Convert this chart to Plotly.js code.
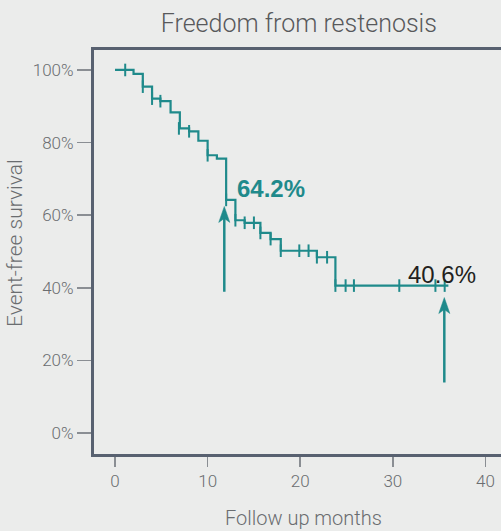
<!DOCTYPE html>
<html>
<head>
<meta charset="utf-8">
<script src="https://cdn.plot.ly/plotly-3.0.1.min.js"></script>
<style>
html, body { margin: 0; padding: 0; overflow: hidden; background: #ebeceb; }
#chart { width: 540px; height: 531px; }
</style>
</head>
<body>
<div id="chart"></div>
<script>
// Kaplan-Meier step curve (months, survival %)
const stepMonths = [0, 2.0, 3.0, 4.0, 4.9, 6.0, 7.0, 8.0, 9.0, 10.0, 11.0, 12.0, 13.0, 14.0, 15.7, 16.8, 17.9, 21.8, 23.8, 36.0];
const stepSurvival = [100, 98.9, 95.4, 92.1, 91.4, 88.3, 83.9, 83.1, 80.5, 76.5, 75.6, 64.2, 58.6, 57.9, 55.1, 53.4, 50.2, 48.4, 40.6, 40.6];

// Censored observations
const censorMonths = [1.1, 3.0, 4.0, 4.9, 6.9, 8.0, 10.0, 12.0, 13.0, 14.0, 15.0, 15.7, 16.8, 17.9, 19.9, 20.9, 21.8, 22.9, 23.8, 24.9, 25.8, 30.7, 34.6, 35.6];
const censorSurvival = [100, 95.4, 92.1, 91.4, 83.9, 83.1, 76.5, 64.2, 58.6, 57.9, 57.9, 55.1, 53.4, 50.2, 50.2, 50.2, 48.4, 48.4, 40.6, 40.6, 40.6, 40.6, 40.6, 40.6];

// Highlighted values
const highlightLabels = ["64.2%", "40.6%"];
const highlightMonths = [12, 36];

const yTickVals = [0, 20, 40, 60, 80, 100];
const yTickText = ["0%", "20%", "40%", "60%", "80%", "100%"];
const xTickVals = [0, 10, 20, 30, 40];

const teal = "#1f8a8b";
const grey = "#6a6d70";
const lightFont = {family: "Roboto, 'Open Sans', sans-serif", weight: 300, color: grey};

// Arrow decoration geometry (data units)
const arrows = [
  {x: highlightMonths[0] - 0.2, tip: 62.4, tail: 38.9},
  {x: highlightMonths[1] - 0.44, tip: 37.3, tail: 13.9}
];
const headHalfW = 0.6, headLen = 4.4, headNotch = 3.3;

const shapes = [];
arrows.forEach(a => {
  shapes.push({
    type: "line", xref: "x", yref: "y",
    x0: a.x, x1: a.x, y0: a.tail, y1: a.tip - headNotch + 0.3,
    line: {color: teal, width: 2.5}
  });
  shapes.push({
    type: "path", xref: "x", yref: "y",
    path: `M ${a.x} ${a.tip} L ${a.x + headHalfW} ${a.tip - headLen} L ${a.x} ${a.tip - headNotch} L ${a.x - headHalfW} ${a.tip - headLen} Z`,
    fillcolor: teal, line: {color: teal, width: 0.5}
  });
});

const traces = [
  {
    x: stepMonths, y: stepSurvival, type: "scatter", mode: "lines",
    line: {shape: "hv", color: teal, width: 2.2},
    hoverinfo: "skip", showlegend: false
  },
  {
    x: censorMonths, y: censorSurvival, type: "scatter", mode: "markers",
    marker: {symbol: "line-ns", size: 9, color: teal, line: {color: teal, width: 2}},
    hoverinfo: "skip", showlegend: false
  }
];

const layout = {
  width: 540, height: 531,
  paper_bgcolor: "#ebeceb", plot_bgcolor: "#ebeceb",
  margin: {l: 94, r: 28, t: 50, b: 77},
  title: {
    text: "Freedom from restenosis",
    font: Object.assign({}, lightFont, {size: 25, color: "#58595b"}),
    xref: "paper", x: 0.49, xanchor: "center",
    yref: "container", y: 1 - 23 / 531, yanchor: "middle"
  },
  xaxis: {
    range: [-2.27, 42.87],
    tickvals: xTickVals,
    ticks: "outside", ticklen: 10, tickwidth: 1.5, tickcolor: "#8a8e93",
    tickfont: Object.assign({}, lightFont, {size: 17}),
    showgrid: false, zeroline: false,
    showline: true, linecolor: "#586170", linewidth: 3, mirror: true
  },
  yaxis: {
    range: [-5.8, 105.5],
    tickvals: yTickVals, ticktext: yTickText,
    ticks: "outside", ticklen: 14, tickwidth: 1.5, tickcolor: "#8a8e93",
    tickfont: Object.assign({}, lightFont, {size: 17}),
    showgrid: false, zeroline: false,
    showline: true, linecolor: "#586170", linewidth: 3, mirror: true
  },
  shapes: shapes,
  annotations: [
    {
      xref: "paper", yref: "paper", x: (15 - 94) / 418, y: (454 - 243) / 404,
      xanchor: "center", yanchor: "middle", textangle: -90, showarrow: false,
      text: "Event-free survival", font: Object.assign({}, lightFont, {size: 21})
    },
    {
      xref: "paper", yref: "paper", x: 0.5, y: (454 - 518) / 404,
      xanchor: "center", yanchor: "middle", showarrow: false,
      text: "Follow up months", font: Object.assign({}, lightFont, {size: 20})
    },
    {
      x: 13.0, y: 67.3, xref: "x", yref: "y", xanchor: "left", yanchor: "middle",
      text: highlightLabels[0], showarrow: false,
      font: {family: "'Liberation Sans', Arial, sans-serif", size: 24, weight: 700, color: teal}
    },
    {
      x: 31.4, y: 43.6, xref: "x", yref: "y", xanchor: "left", yanchor: "middle",
      text: highlightLabels[1], showarrow: false,
      font: {family: "'Liberation Sans', Arial, sans-serif", size: 24, weight: 400, color: "#231f20"}
    }
  ]
};

Plotly.newPlot("chart", traces, layout, {displayModeBar: false, staticPlot: true});
</script>
</body>
</html>
